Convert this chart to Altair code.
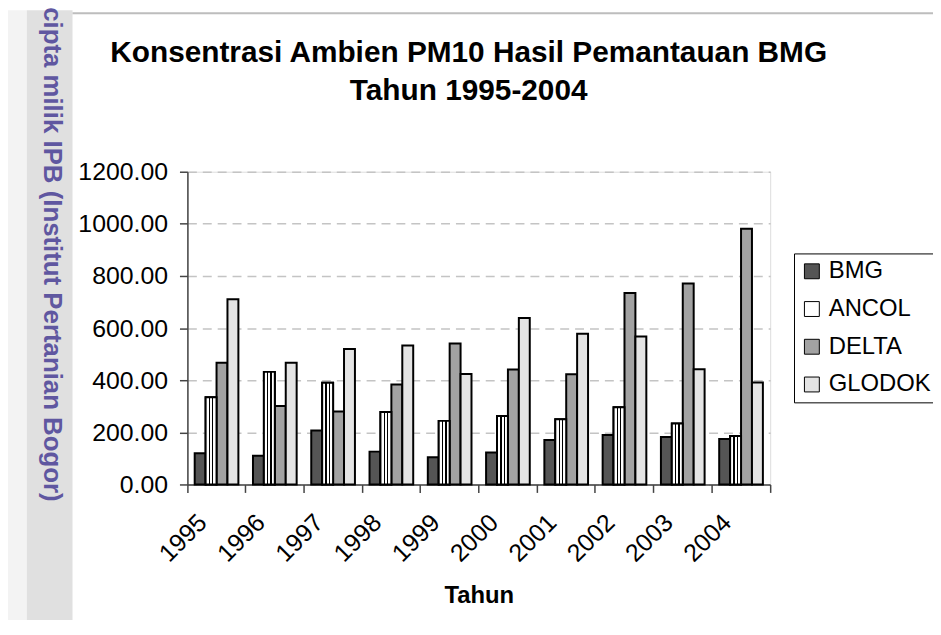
import altair as alt
import pandas as pd

# ---- data ----
years = ["1995", "1996", "1997", "1998", "1999", "2000", "2001", "2002", "2003", "2004"]
series = ["BMG", "ANCOL", "DELTA", "GLODOK"]
bmg = [120, 110, 207, 126, 104, 123, 171, 190, 182, 174]
ancol = [335, 432, 390, 278, 244, 263, 250, 296, 234, 186]
delta = [467, 301, 280, 384, 541, 441, 423, 735, 771, 981]
glodok = [711, 467, 520, 533, 424, 639, 578, 568, 442, 391]
y_ticks = [0, 200, 400, 600, 800, 1000, 1200]

title_lines = ["Konsentrasi Ambien PM10 Hasil Pemantauan BMG", "Tahun 1995-2004"]
x_title = "Tahun"
watermark = "cipta milik IPB (Institut Pertanian Bogor)"

rows = []
for name, vals in zip(series, [bmg, ancol, delta, glodok]):
    for yr, v in zip(years, vals):
        rows.append({"year": yr, "series": name, "value": v})
df = pd.DataFrame(rows)

FONT = "Liberation Sans"
W, H = 587, 315
PAD_L, PAD_T = 180.7, 162.7
colors = ["#555555", "#ffffff", "#a2a2a2", "#e4e4e4"]

ancol_fill = alt.LinearGradient(
    gradient="linear", x1=0, y1=0, x2=1, y2=0,
    stops=[
        alt.GradientStop(offset=0.0, color="white"),
        alt.GradientStop(offset=0.30, color="white"),
        alt.GradientStop(offset=0.30, color="black"),
        alt.GradientStop(offset=0.42, color="black"),
        alt.GradientStop(offset=0.42, color="white"),
        alt.GradientStop(offset=0.60, color="white"),
        alt.GradientStop(offset=0.60, color="black"),
        alt.GradientStop(offset=0.72, color="black"),
        alt.GradientStop(offset=0.72, color="white"),
        alt.GradientStop(offset=1.0, color="white"),
    ],
)

x_enc = alt.X(
    "year:N", sort=years, title=x_title,
    scale=alt.Scale(domain=years, paddingInner=0, paddingOuter=0),
    axis=alt.Axis(
        labelAngle=-45, labelAlign="right", labelBaseline="middle",
        labelFontSize=25, labelFont=FONT, labelColor="black",
        labelPadding=26, labelOffset=-14,
        bandPosition=1, tickExtra=True, tickSize=8,
        tickColor="#444444", domainColor="#444444", tickWidth=1.5, domainWidth=1.5,
        titleFontSize=24, titleFont=FONT, titleFontWeight="bold", titleColor="black",
        titlePadding=17, grid=False,
    ),
)
xo_enc = alt.XOffset(
    "series:N", sort=series,
    scale=alt.Scale(domain=series, paddingInner=0, paddingOuter=0.668),
)
y_enc = alt.Y(
    "value:Q", title=None,
    scale=alt.Scale(domain=[0, 1200], nice=False),
    axis=alt.Axis(
        values=y_ticks, format=".2f", labelFontSize=25, labelFont=FONT,
        labelColor="black", labelPadding=12, tickSize=8,
        tickColor="#444444", domainColor="#444444", tickWidth=1.5, domainWidth=1.5,
        gridColor="#c4c4c4", gridDash=[9, 6], gridWidth=1.5,
    ),
)

base = alt.Chart(df)

bars = base.mark_bar(stroke="black", strokeWidth=2).encode(
    x=x_enc, xOffset=xo_enc, y=y_enc,
    fill=alt.Fill(
        "series:N", sort=series,
        scale=alt.Scale(domain=series, range=colors),
        legend=alt.Legend(
            orient="none", legendX=611, legendY=82.3, title=None,
            symbolType="square", symbolSize=225, symbolStrokeColor="black",
            symbolStrokeWidth=1, labelFontSize=24, labelFont=FONT,
            labelColor="black", rowPadding=14, labelOffset=5, padding=6,
            strokeColor="black", fillColor="white", labelLimit=0,
        ),
    ),
)

ancol_bars = base.transform_filter(alt.datum.series == "ANCOL").mark_bar(
    fill=ancol_fill, stroke="black", strokeWidth=2
).encode(x=x_enc, xOffset=xo_enc, y=y_enc)

deco = alt.Chart(pd.DataFrame({"t": [watermark]}))
strip_light = deco.mark_rect(color="#f3f3f3").encode(
    x=alt.value(-PAD_L), x2=alt.value(27 - 188.7),
    y=alt.value(-PAD_T), y2=alt.value(H + 140),
)
strip_dark = deco.mark_rect(color="#e0e0e0").encode(
    x=alt.value(27 - 188.7), x2=alt.value(73 - 188.7),
    y=alt.value(-PAD_T), y2=alt.value(H + 140),
)
top_line = deco.mark_rule(color="#bdbdbd", strokeWidth=2).encode(
    x=alt.value(73 - 188.7), x2=alt.value(760), y=alt.value(11 - 170.7),
)
wm_text = deco.mark_text(
    angle=90, align="right", baseline="middle", font=FONT, fontWeight="bold",
    fontSize=26, color="#5f57a0",
).encode(x=alt.value(52 - 188.7), y=alt.value(503 - 170.7), text="t:N")

title_text = deco.mark_text(
    text=title_lines, align="center", baseline="alphabetic", font=FONT,
    fontWeight="bold", fontSize=30, lineHeight=38.7, color="black",
).encode(x=alt.value(472 - 188.7), y=alt.value(60 - 170.7))

chart = alt.layer(
    strip_light, strip_dark, top_line, wm_text, title_text, bars, ancol_bars
).properties(
    width=W, height=H,
    autosize=alt.AutoSizeParams(type="none"),
    padding={"left": PAD_L, "top": PAD_T, "right": 164, "bottom": 134},
).configure_view(stroke=None).configure(background="white")

chart.save("out.html", embed_options={"renderer": "svg", "actions": False})
